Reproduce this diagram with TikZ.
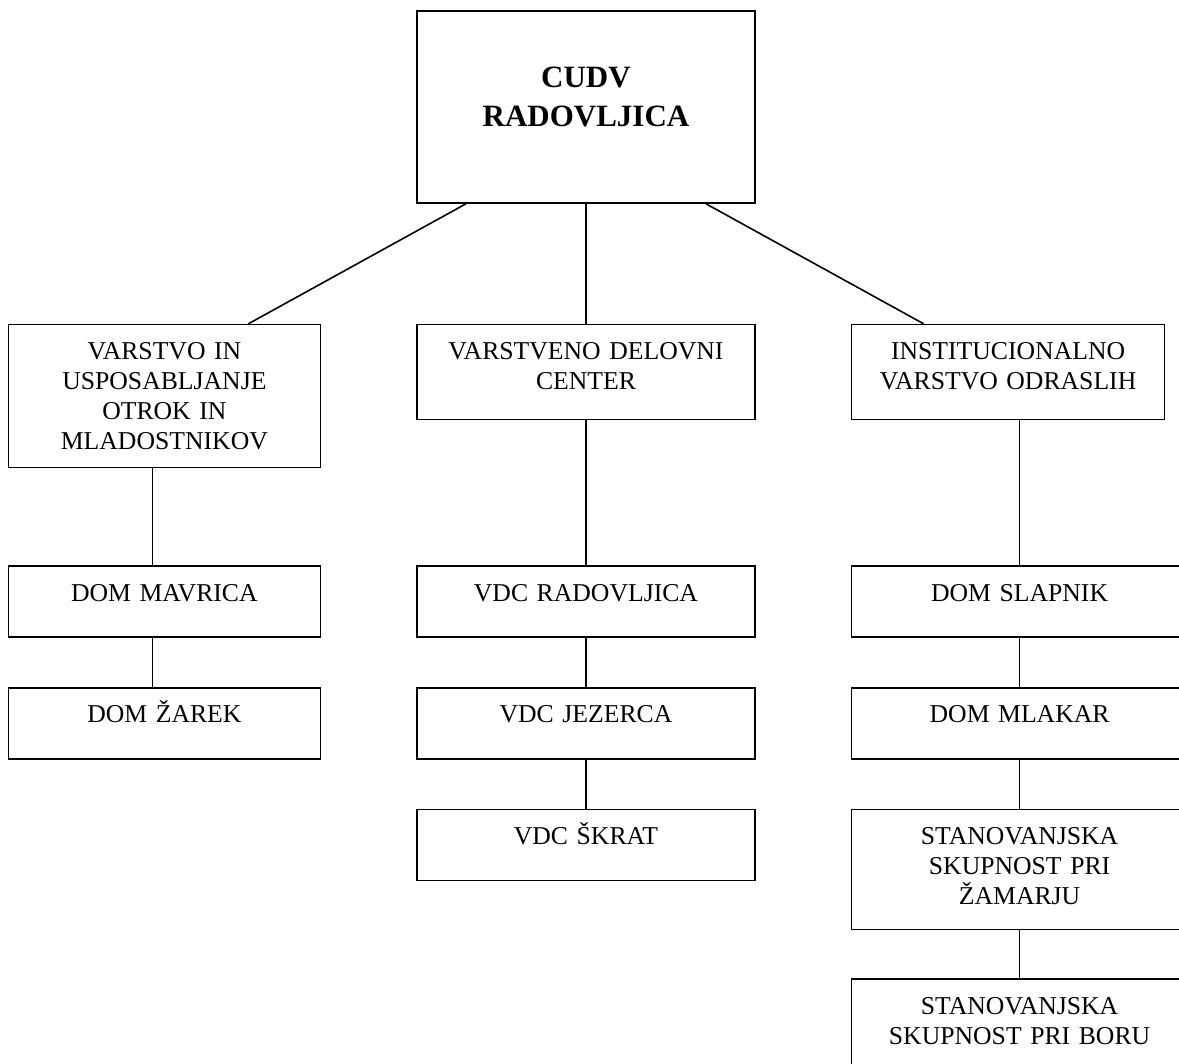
\documentclass[tikz,border=0pt]{standalone}
\usepackage{fontspec}
\setmainfont{Liberation Serif}
\usepackage{tikz}
\usetikzlibrary{positioning}

\begin{document}
\begin{tikzpicture}[-,thick,node distance=24.5pt]
\tikzstyle{box}=[draw=black,text=black,inner xsep=2pt,inner ysep=0pt,align=center,
  text height=17.5pt,text depth=18pt,font=\fontsize{12.85}{15}\selectfont]
\tikzstyle{head}=[box,text width=165pt,text height=38.5pt,text depth=57.5pt,
  font=\fontsize{15.5}{19.5}\selectfont\bfseries]
\tikzstyle{lcol}=[box,text width=152pt]
\tikzstyle{mcol}=[box,text width=165pt]
\tikzstyle{rcol}=[box,text width=164pt]
\useasboundingbox (-293pt,53.5pt) rectangle (296.5pt,-478.5pt);
% top
\node[head] (cudv) at (0,0) {CUDV\\RADOVLJICA};
\node[lcol,text depth=54pt][below left=60pt and 47.5pt of cudv] (vum)
  {VARSTVO IN\\USPOSABLJANJE\\OTROK IN\\MLADOSTNIKOV};
\node[mcol,text depth=30pt][below=60pt of cudv] (vdc) {VARSTVENO DELOVNI\\CENTER};
\node[box,text width=152.5pt,text depth=30pt][below right=60pt and 47.5pt of cudv] (ivo)
  {INSTITUCIONALNO\\VARSTVO ODRASLIH};
% left
\node[lcol][below=48.5pt of vum] (mavrica) {DOM MAVRICA};
\node[lcol][below=24.5pt of mavrica] (zarek) {DOM ŽAREK};
% middle
\node[mcol][below=72.5pt of vdc] (vdcrad) {VDC RADOVLJICA};
\node[mcol][below=24.5pt of vdcrad] (jezerca) {VDC JEZERCA};
\node[mcol][below=24.5pt of jezerca] (skrat) {VDC ŠKRAT};
% right
\node[rcol][below right=72.5pt and 0pt of ivo.south west] (slapnik) {DOM SLAPNIK};
\node[rcol][below=24.5pt of slapnik] (mlakar) {DOM MLAKAR};
\node[rcol,text depth=42.5pt][below=24.5pt of mlakar] (zamar)
  {STANOVANJSKA\\SKUPNOST PRI\\ŽAMARJU};
\node[rcol,text depth=34pt][below=24pt of zamar] (bor)
  {STANOVANJSKA\\SKUPNOST PRI BORU};
\path (cudv.south) edge (vdc.north)
      ([xshift=-60pt]cudv.south) edge ([xshift=42pt]vum.north)
      ([xshift=60pt]cudv.south) edge ([xshift=-42.25pt]ivo.north)
      ([xshift=-6pt]vum.south) edge ([xshift=-6pt]mavrica.north)
      ([xshift=-6pt]mavrica.south) edge ([xshift=-6pt]zarek.north)
      (vdc.south) edge (vdcrad.north)
      (vdcrad.south) edge (jezerca.north)
      (jezerca.south) edge (skrat.north)
      (ivo.south -| slapnik.north) edge (slapnik.north)
      (slapnik.south) edge (mlakar.north)
      (mlakar.south) edge (zamar.north)
      (zamar.south) edge (bor.north);
\end{tikzpicture}
\end{document}
